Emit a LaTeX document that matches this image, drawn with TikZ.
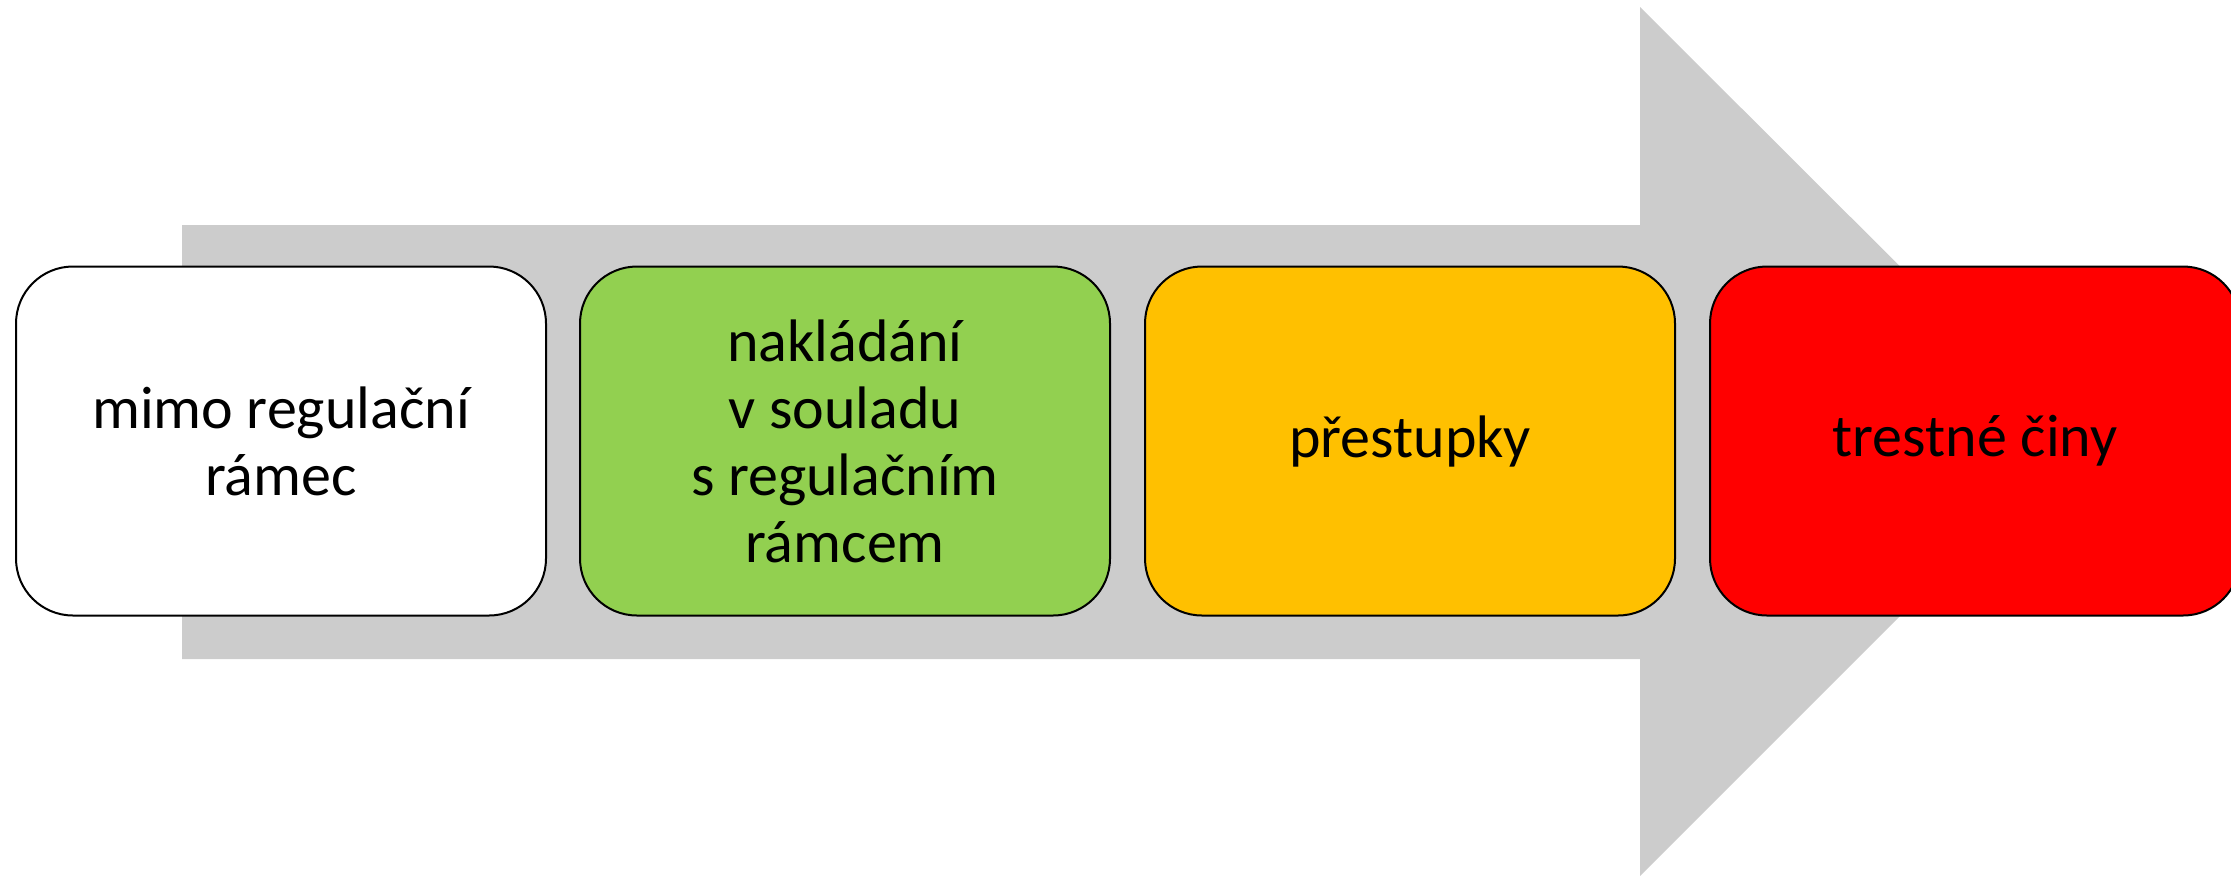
\documentclass[tikz,border=0pt]{standalone}
\usepackage{fontspec}
\setmainfont{Carlito}
\definecolor{arrowgray}{HTML}{CCCCCC}
\definecolor{boxgreen}{HTML}{92D050}
\definecolor{boxorange}{HTML}{FFC000}
\definecolor{boxred}{HTML}{FF0000}
\begin{document}
\begin{tikzpicture}[x=0.5pt,y=-0.5pt,
  stagebox/.style={draw=black, line width=1pt, rounded corners=28.5pt,
    minimum width=265pt, minimum height=174.5pt, align=center,
    font=\fontsize{30}{33.5}\selectfont, inner sep=0pt},
  bigarrow/.style={fill=arrowgray, draw=none}]
\useasboundingbox (0,0) rectangle (2231,875);
\clip (0,0) rectangle (2231,875);
\fill[bigarrow] (182,225) -- (1640,225) -- (1640,7) -- (2075,441) -- (1640,876) -- (1640,659) -- (182,659) -- cycle;
\node[stagebox, fill=white] (b1) at (281,441) {mimo regulační\\rámec};
\node[stagebox, fill=boxgreen] (b2) at (845,441) {nakládání\\v souladu\\s regulačním\\rámcem};
\node[stagebox, fill=boxorange] (b3) at (1410,441) {přestupky};
\node[stagebox, fill=boxred] (b4) at (1975,441) {trestné činy};
\end{tikzpicture}
\end{document}
